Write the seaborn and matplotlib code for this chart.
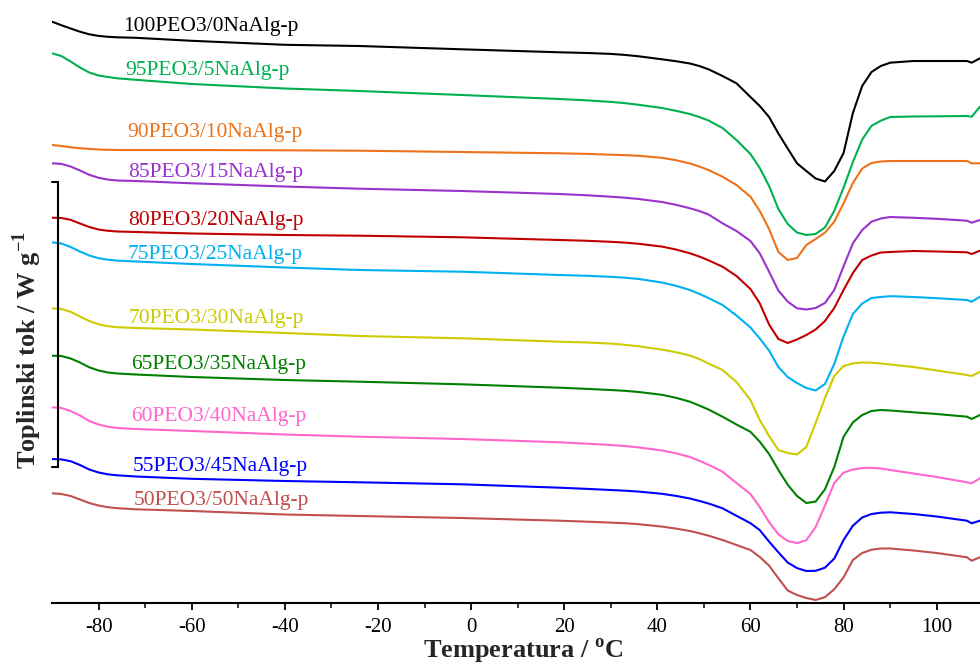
import numpy as np
import pandas as pd
import matplotlib
matplotlib.use("Agg")
import matplotlib.pyplot as plt
import seaborn as sns
from matplotlib.ticker import MultipleLocator, FixedLocator

# ---------------- data ----------------
temperature = [-90, -88, -86, -84, -82, -80, -78, -76, -72, -60, -40, -24, -2, 19, 25, 30, 33, 36,
               41, 44, 47, 49, 51, 54, 57, 60, 62, 64, 66, 68, 70, 72, 74, 76, 78, 80, 82, 84,
               86, 88, 90, 95, 100, 106.5, 107.5, 109.3]

samples = ["100PEO3/0NaAlg-p", "95PEO3/5NaAlg-p", "90PEO3/10NaAlg-p", "85PEO3/15NaAlg-p",
           "80PEO3/20NaAlg-p", "75PEO3/25NaAlg-p", "70PEO3/30NaAlg-p", "65PEO3/35NaAlg-p",
           "60PEO3/40NaAlg-p", "55PEO3/45NaAlg-p", "50PEO3/50NaAlg-p"]

hf_100_0 = [-0.217, -0.252, -0.285, -0.317, -0.343, -0.359, -0.368, -0.373, -0.378, -0.408, -0.448, -0.46,
            -0.493, -0.523, -0.53, -0.539, -0.549, -0.563, -0.593, -0.612, -0.635, -0.66, -0.693, -0.76,
            -0.833, -0.97, -1.06, -1.17, -1.335, -1.485, -1.633, -1.71, -1.785, -1.815, -1.71, -1.53,
            -1.13, -0.86, -0.72, -0.66, -0.627, -0.61, -0.61, -0.61, -0.627, -0.583]
hf_95_5 = [-0.533, -0.56, -0.615, -0.675, -0.725, -0.755, -0.77, -0.783, -0.798, -0.84, -0.885, -0.91,
           -0.95, -0.99, -1.004, -1.019, -1.031, -1.048, -1.08, -1.108, -1.14, -1.17, -1.205, -1.28,
           -1.40, -1.54, -1.68, -1.86, -2.09, -2.24, -2.325, -2.35, -2.34, -2.275, -2.108, -1.877,
           -1.62, -1.395, -1.258, -1.207, -1.17, -1.165, -1.163, -1.16, -1.167, -1.067]
hf_90_10 = [-1.45, -1.46, -1.473, -1.482, -1.489, -1.495, -1.498, -1.50, -1.50, -1.50, -1.503, -1.507,
            -1.52, -1.533, -1.539, -1.547, -1.551, -1.558, -1.578, -1.602, -1.635, -1.665, -1.70, -1.767,
            -1.85, -1.967, -2.11, -2.29, -2.52, -2.60, -2.58, -2.45, -2.39, -2.327, -2.217, -2.033,
            -1.83, -1.685, -1.63, -1.615, -1.61, -1.61, -1.61, -1.61, -1.633, -1.633]
hf_85_15 = [-1.633, -1.639, -1.665, -1.705, -1.748, -1.778, -1.796, -1.805, -1.81, -1.833, -1.865, -1.887,
            -1.91, -1.94, -1.953, -1.967, -1.977, -1.99, -2.02, -2.048, -2.083, -2.11, -2.145, -2.233,
            -2.31, -2.41, -2.533, -2.717, -2.906, -3.016, -3.083, -3.095, -3.08, -3.03, -2.90, -2.663,
            -2.433, -2.30, -2.217, -2.185, -2.17, -2.178, -2.188, -2.207, -2.227, -2.20]
hf_80_20 = [-2.177, -2.18, -2.198, -2.235, -2.27, -2.295, -2.308, -2.315, -2.32, -2.335, -2.35, -2.357,
            -2.373, -2.40, -2.408, -2.418, -2.426, -2.438, -2.466, -2.495, -2.533, -2.565, -2.603, -2.667,
            -2.76, -2.89, -3.033, -3.245, -3.39, -3.43, -3.395, -3.35, -3.295, -3.21, -3.08, -2.90,
            -2.73, -2.60, -2.555, -2.525, -2.52, -2.51, -2.515, -2.523, -2.54, -2.507]
hf_75_25 = [-2.423, -2.435, -2.47, -2.515, -2.555, -2.582, -2.597, -2.606, -2.615, -2.64, -2.675, -2.70,
            -2.717, -2.75, -2.758, -2.768, -2.777, -2.79, -2.825, -2.858, -2.90, -2.938, -2.98, -3.05,
            -3.155, -3.275, -3.385, -3.505, -3.67, -3.77, -3.83, -3.88, -3.905, -3.84, -3.64, -3.365,
            -3.14, -3.035, -2.98, -2.97, -2.962, -2.97, -2.982, -3.00, -3.017, -2.967]
hf_70_30 = [-3.083, -3.09, -3.118, -3.165, -3.21, -3.243, -3.262, -3.272, -3.28, -3.295, -3.33, -3.36,
            -3.383, -3.417, -3.425, -3.436, -3.448, -3.463, -3.496, -3.522, -3.555, -3.59, -3.635, -3.70,
            -3.82, -4.00, -4.20, -4.36, -4.50, -4.53, -4.545, -4.47, -4.23, -3.98, -3.76, -3.66,
            -3.635, -3.625, -3.627, -3.635, -3.645, -3.67, -3.705, -3.75, -3.76, -3.717]
hf_65_35 = [-3.557, -3.56, -3.585, -3.625, -3.673, -3.705, -3.725, -3.735, -3.745, -3.77, -3.80, -3.817,
            -3.843, -3.877, -3.889, -3.90, -3.908, -3.92, -3.948, -3.978, -4.017, -4.055, -4.095, -4.167,
            -4.245, -4.318, -4.417, -4.54, -4.70, -4.847, -4.96, -5.03, -5.016, -4.893, -4.67, -4.367,
            -4.224, -4.15, -4.11, -4.10, -4.105, -4.123, -4.14, -4.167, -4.19, -4.15]
hf_60_40 = [-4.073, -4.08, -4.11, -4.155, -4.21, -4.245, -4.267, -4.28, -4.29, -4.31, -4.345, -4.367,
            -4.39, -4.423, -4.437, -4.45, -4.46, -4.474, -4.505, -4.533, -4.57, -4.608, -4.648, -4.717,
            -4.83, -4.94, -5.07, -5.22, -5.343, -5.41, -5.431, -5.402, -5.27, -5.057, -4.83, -4.726,
            -4.695, -4.68, -4.678, -4.685, -4.70, -4.735, -4.77, -4.823, -4.833, -4.783]
hf_55_45 = [-4.59, -4.594, -4.612, -4.65, -4.695, -4.725, -4.743, -4.753, -4.765, -4.788, -4.81, -4.823,
            -4.843, -4.877, -4.889, -4.90, -4.907, -4.916, -4.938, -4.959, -4.985, -5.009, -5.035, -5.083,
            -5.158, -5.232, -5.301, -5.416, -5.523, -5.625, -5.681, -5.71, -5.708, -5.677, -5.586, -5.40,
            -5.257, -5.175, -5.14, -5.127, -5.123, -5.14, -5.165, -5.207, -5.233, -5.207]
hf_50_50 = [-4.933, -4.94, -4.96, -4.995, -5.03, -5.055, -5.072, -5.082, -5.093, -5.11, -5.145, -5.16,
            -5.18, -5.207, -5.217, -5.226, -5.232, -5.242, -5.266, -5.286, -5.31, -5.332, -5.357, -5.40,
            -5.45, -5.50, -5.57, -5.656, -5.783, -5.905, -5.95, -5.98, -6.00, -5.972, -5.893, -5.773,
            -5.60, -5.53, -5.497, -5.485, -5.485, -5.505, -5.53, -5.573, -5.607, -5.573]

series = [hf_100_0, hf_95_5, hf_90_10, hf_85_15, hf_80_20, hf_75_25,
          hf_70_30, hf_65_35, hf_60_40, hf_55_45, hf_50_50]

# ---------------- styles / positions ----------------
colors = ["#000000", "#00b050", "#ee7219", "#9933cc", "#c00000", "#00b0f0",
          "#cccc00", "#008000", "#ff66cc", "#0000ff", "#c0504d"]
label_x = [-74.7, -74.3, -73.8, -73.7, -73.7, -73.7, -73.6, -72.9, -73.1, -72.7, -72.4]
label_y = [-0.267, -0.70, -1.33, -1.725, -2.20, -2.55, -3.183, -3.643, -4.167, -4.667, -5.00]

rows = []
for name, vals in zip(samples, series):
    for t, v in zip(temperature, vals):
        rows.append({"T": t, "hf": v, "sample": name})
df = pd.DataFrame(rows)

sns.set_theme(style="white")
plt.rcParams["font.family"] = ["Liberation Serif", "DejaVu Serif"]
plt.rcParams["mathtext.fontset"] = "custom"
plt.rcParams["mathtext.rm"] = "Liberation Serif"
plt.rcParams["mathtext.bf"] = "Liberation Serif:bold"
plt.rcParams["axes.unicode_minus"] = False

fig = plt.figure(figsize=(9.8, 6.64), dpi=100)
ax = fig.add_axes([52 / 980, 61 / 664, 928 / 980, 603 / 664])

sns.lineplot(data=df, x="T", y="hf", hue="sample", palette=dict(zip(samples, colors)),
             hue_order=samples, sort=False, estimator=None, legend=False,
             linewidth=1.5, ax=ax)
for ln in ax.get_lines():
    ln.set_solid_joinstyle("round")
    ln.set_solid_capstyle("round")

for name, c, lx, ly in zip(samples, colors, label_x, label_y):
    ax.text(lx, ly, name, color=c, fontsize=15.5, ha="left", va="center")

# scale bar bracket
ax.plot([-90, -88.8, -88.8, -90], [-1.823, -1.823, -4.673, -4.673], color="black",
        lw=1.5, clip_on=False, solid_joinstyle="miter")

ax.set_xlim(-90, 109.3)
ax.set_ylim(-6.03, 0)
ax.set_yticks([])
ax.xaxis.set_major_locator(MultipleLocator(20))
ax.xaxis.set_minor_locator(FixedLocator([-70, -50, -30, -10, 10, 30, 50, 70, 90]))
ax.tick_params(axis="x", which="major", direction="out", length=5, width=1.3,
               labelsize=15, pad=6, bottom=True, colors="black")
ax.tick_params(axis="x", which="minor", direction="out", length=3.5, width=1.3, bottom=True)
for s in ["left", "right", "top"]:
    ax.spines[s].set_visible(False)
ax.spines["bottom"].set_linewidth(1.5)
ax.spines["bottom"].set_color("black")
ax.set_xlabel("")
ax.set_ylabel("")

fig.text(523 / 980, 1 - 651 / 664, r"Temperatura / $^{\mathregular{o}}$C", fontsize=19,
         fontweight="bold", ha="center", va="center")
fig.text(27 / 980, 1 - 350 / 664, r"Toplinski tok / W g$^{\mathregular{-1}}$", fontsize=19,
         fontweight="bold", ha="center", va="center", rotation=90)

fig.savefig("out.png", dpi=100)
